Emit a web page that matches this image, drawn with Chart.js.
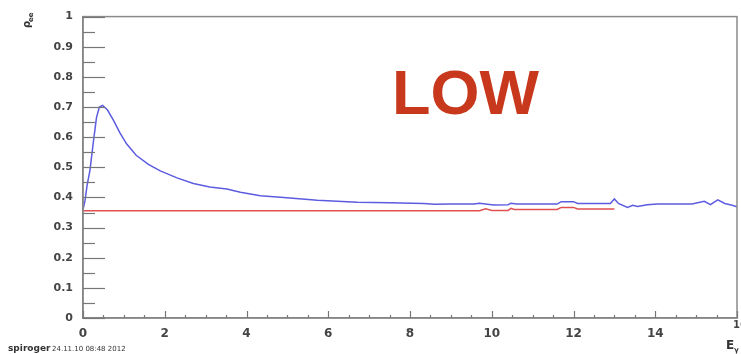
<!DOCTYPE html>
<html>
<head>
<meta charset="utf-8">
<script src="https://cdn.jsdelivr.net/npm/chart.js@4.4.1/dist/chart.umd.min.js"></script>
<style>
  html, body { margin: 0; padding: 0; background: #ffffff; }
  #wrap { width: 741px; height: 354px; position: relative; }
</style>
</head>
<body>
<div id="wrap"><canvas id="c" width="741" height="354"></canvas></div>
<script>
// Photon energy sampling points and density-matrix element rho_ee
const blueX = [0, 0.05, 0.1, 0.17, 0.25, 0.33, 0.4, 0.48, 0.6, 0.75, 0.9, 1.07, 1.3, 1.6, 1.89, 2.3, 2.7, 3.1, 3.52, 3.85, 4.34, 4.91, 5.73, 6.71, 7.5, 8.33, 8.6, 9.0, 9.56, 9.7, 10.05, 10.4, 10.47, 10.6, 11.6, 11.7, 12.0, 12.1, 12.9, 13.0, 13.1, 13.32, 13.45, 13.57, 13.8, 14.06, 14.9, 15.2, 15.35, 15.53, 15.7, 15.86, 16];
const blueY = [0.36, 0.39, 0.44, 0.49, 0.58, 0.665, 0.70, 0.705, 0.69, 0.655, 0.615, 0.577, 0.54, 0.51, 0.488, 0.465, 0.446, 0.435, 0.428, 0.417, 0.406, 0.40, 0.391, 0.384, 0.382, 0.380, 0.377, 0.378, 0.378, 0.381, 0.375, 0.376, 0.381, 0.378, 0.378, 0.386, 0.386, 0.380, 0.380, 0.395, 0.380, 0.367, 0.374, 0.370, 0.376, 0.378, 0.378, 0.387, 0.376, 0.392, 0.380, 0.375, 0.369];
const redX = [0, 9.7, 9.85, 10.0, 10.4, 10.47, 10.55, 11.6, 11.7, 12.0, 12.1, 13.0];
const redY = [0.356, 0.356, 0.362, 0.357, 0.357, 0.364, 0.360, 0.360, 0.367, 0.367, 0.362, 0.362];
const xTicks = [0, 2, 4, 6, 8, 10, 12, 14, 16];
const yTicks = [0, 0.1, 0.2, 0.3, 0.4, 0.5, 0.6, 0.7, 0.8, 0.9, 1];

const toPts = (xs, ys) => xs.map((x, i) => ({ x: x, y: ys[i] }));

// ROOT-style frame: inward ticks, grey box, annotations
const framePlugin = {
  id: 'frame',
  afterDatasetsDraw(chart) {
    const { ctx, chartArea: a, scales } = chart;
    const xs = scales.x, ys = scales.y;
    ctx.save();
    ctx.strokeStyle = '#8a8a8a';
    ctx.lineWidth = 1.5;
    ctx.strokeRect(a.left, a.top, a.right - a.left, a.bottom - a.top);
    ctx.strokeStyle = '#777';
    ctx.lineWidth = 1.2;
    // y ticks (major every 0.1, minor every 0.05)
    for (let i = 0; i <= 20; i++) {
      const v = i * 0.05;
      const py = Math.round(ys.getPixelForValue(v)) + 0.5;
      const len = (i % 2 === 0) ? 22 : 12;
      ctx.beginPath(); ctx.moveTo(a.left, py); ctx.lineTo(a.left + len, py); ctx.stroke();
    }
    // x ticks (major every 2, minor every 0.5)
    for (let i = 0; i <= 32; i++) {
      const v = i * 0.5;
      const px = Math.round(xs.getPixelForValue(v)) + 0.5;
      const len = (i % 4 === 0) ? 7 : 3;
      ctx.beginPath(); ctx.moveTo(px, a.bottom); ctx.lineTo(px, a.bottom - len); ctx.stroke();
    }
    // label text
    ctx.fillStyle = '#c8381c';
    ctx.font = 'bold 63px "Liberation Sans", Arial, sans-serif';
    ctx.textBaseline = 'alphabetic';
    ctx.textAlign = 'left';
    ctx.fillText('LOW', 392, 114);
    // axis titles
    ctx.fillStyle = '#333';
    ctx.save();
    ctx.translate(30, 28);
    ctx.rotate(-Math.PI / 2);
    ctx.font = 'bold 10px "DejaVu Sans", sans-serif';
    ctx.fillText('ρ', 0, 0);
    ctx.font = 'bold 7px "DejaVu Sans", sans-serif';
    ctx.fillText('ee', 6, 3);
    ctx.restore();
    ctx.font = 'bold 12px "DejaVu Sans", sans-serif';
    ctx.fillText('E', 726, 349);
    ctx.font = 'bold 7px "DejaVu Sans", sans-serif';
    ctx.fillText('γ', 734, 352);
    ctx.fillStyle = '#444';
    ctx.font = 'bold 10px "DejaVu Sans", sans-serif';
    ctx.fillText('16', 733, 328);
    // stamp
    ctx.fillStyle = '#333';
    ctx.font = 'bold 9px "DejaVu Sans", sans-serif';
    ctx.fillText('spiroger', 8, 351);
    ctx.font = '7px "DejaVu Sans", sans-serif';
    ctx.fillText('24.11.10 08:48 2012', 52, 351);
    ctx.restore();
  }
};

new Chart(document.getElementById('c'), {
  type: 'line',
  data: {
    datasets: [
      { data: toPts(blueX, blueY), borderColor: '#5c5ce0', borderWidth: 1.5, pointRadius: 0, tension: 0, fill: false },
      { data: toPts(redX, redY), borderColor: '#e05050', borderWidth: 1.5, pointRadius: 0, tension: 0, fill: false }
    ]
  },
  options: {
    responsive: false,
    animation: false,
    events: [],
    layout: { padding: { left: 0, right: 4, top: 15, bottom: 0 } },
    plugins: { legend: { display: false }, tooltip: { enabled: false } },
    scales: {
      x: {
        type: 'linear', min: 0, max: 16,
        afterBuildTicks: s => { s.ticks = xTicks.slice(0, -1).map(v => ({ value: v })); },
        afterFit: s => { s.height = 36; },
        grid: { display: false, drawTicks: false },
        border: { display: true, color: '#777', width: 1.5 },
        ticks: { color: '#444', padding: 9, font: { size: 12, weight: 'bold', family: '"DejaVu Sans", sans-serif' }, maxRotation: 0, autoSkip: false }
      },
      y: {
        type: 'linear', min: 0, max: 1,
        afterBuildTicks: s => { s.ticks = yTicks.map(v => ({ value: v })); },
        afterFit: s => { s.width = 83; },
        grid: { display: false, drawTicks: false },
        border: { display: true, color: '#777', width: 1.5 },
        ticks: { color: '#444', padding: 10, font: { size: 11, weight: 'bold', family: '"DejaVu Sans", sans-serif' },
          callback: v => (v === 0 || v === 1) ? String(v) : v.toFixed(1) }
      }
    }
  },
  plugins: [framePlugin]
});
</script>
</body>
</html>
